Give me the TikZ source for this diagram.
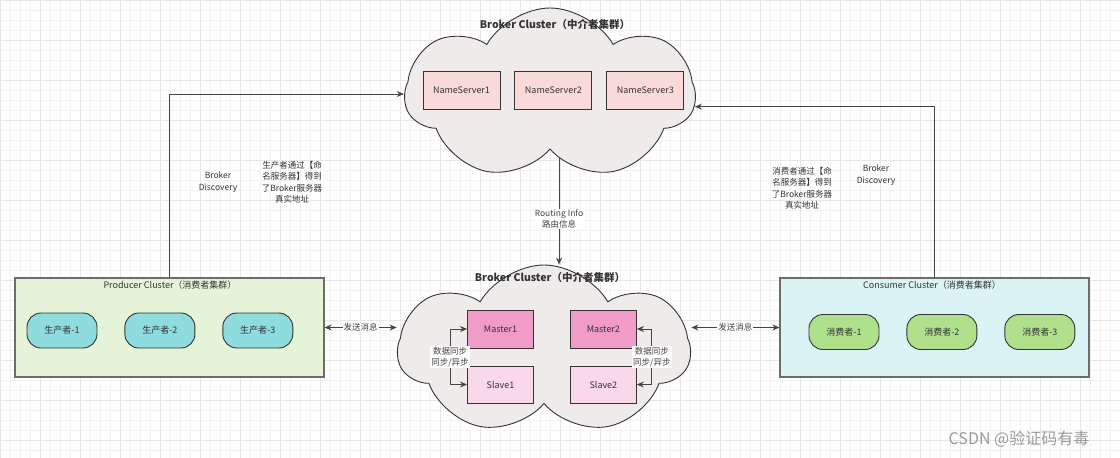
\documentclass[tikz,border=0pt]{standalone}
\usepackage{fontspec}
\newfontfamily\cjk{Noto Sans CJK SC}
\usepackage{xcolor}
\usepackage{tikz}
\usetikzlibrary{positioning}
\usetikzlibrary{shapes.symbols}
\usetikzlibrary{arrows.meta}

\definecolor{ink}{HTML}{333333}
\definecolor{edgegray}{HTML}{444444}
\definecolor{gridlight}{HTML}{F2F2F2}
\definecolor{griddark}{HTML}{E6E6E6}
\definecolor{cloudfill}{HTML}{EFEBEA}
\definecolor{nsfill}{HTML}{FADAD8}
\definecolor{masterfill}{HTML}{F19BC8}
\definecolor{slavefill}{HTML}{F9D8EA}
\definecolor{prodbg}{HTML}{E5F4D8}
\definecolor{consbg}{HTML}{DAF3F4}
\definecolor{prodfill}{HTML}{8FDCDE}
\definecolor{consfill}{HTML}{AFE18C}

\tikzset{
  cloudbox/.style={cloud, cloud puffs=7, cloud puff arc=120, cloud ignores aspect,
    draw=ink, fill=cloudfill, line width=0.9pt, inner sep=0pt},
  nsbox/.style={draw=ink, fill=nsfill, line width=0.9pt, minimum width=77, minimum height=38},
  masterbox/.style={draw=ink, fill=masterfill, line width=0.9pt, minimum width=66, minimum height=38},
  slavebox/.style={draw=ink, fill=slavefill, line width=0.9pt, minimum width=66, minimum height=37},
  clusterbox/.style={draw=gray!85!black, line width=1.2pt, minimum width=309, minimum height=99},
  pill/.style={draw=ink, line width=0.9pt, rounded corners=14, minimum width=70, minimum height=35},
  lbl/.style={align=center, font=\cjk\fontsize{8.5}{11.5}\selectfont},
  tag/.style={fill=white, inner sep=1pt, align=center, font=\cjk\fontsize{8.5}{11}\selectfont},
  title/.style={font=\cjk\bfseries\fontsize{10.5}{12}\selectfont}
}

\begin{document}
\begin{tikzpicture}[x=1pt,y=-1pt,>={Stealth[length=7pt,width=6pt]},
  text=ink, font=\cjk\fontsize{9}{11}\selectfont]
\useasboundingbox (0,0) rectangle (1120,458);
% background grid
\begin{scope}[y=1pt]
\draw[gridlight, line width=0.3pt, step=10] (0,-458) grid (1120,0);
\draw[griddark, line width=0.4pt, step=40] (0,-458) grid (1120,0);
\end{scope}

% name server cloud
\node[cloudbox, minimum width=290, minimum height=172] (top) at (550,94) {};
\node[title] (toptitle) at (555,24) {Broker Cluster（中介者集群）};
\node[nsbox] (ns1) at (461.5,90) {NameServer1};
\node[nsbox, right=14 of ns1] (ns2) {NameServer2};
\node[nsbox, right=14 of ns2] (ns3) {NameServer3};

% broker cloud
\node[cloudbox, minimum width=292, minimum height=170] (bc) at (544,350) {};
\node[title] (bctitle) at (550,277) {Broker Cluster（中介者集群）};
\node[masterbox] (m1) at (500.5,329) {Master1};
\node[masterbox, right=36 of m1] (m2) {Master2};
\node[slavebox] (s1) at (500.5,384.5) {Slave1};
\node[slavebox, right=36 of s1] (s2) {Slave2};

% producer cluster
\node[clusterbox, fill=prodbg] (prod) at (169.5,327.5) {};
\node (prodtitle) at (170,285) {Producer Cluster（消费者集群）};
\node[pill, fill=prodfill] (p1) at (62,330.5) {生产者-1};
\node[pill, fill=prodfill, right=27 of p1] (p2) {生产者-2};
\node[pill, fill=prodfill, right=27 of p2] (p3) {生产者-3};

% consumer cluster
\node[clusterbox, fill=consbg] (cons) at (934.5,327.5) {};
\node (constitle) at (932,285) {Consumer Cluster（消费者集群）};
\node[pill, fill=consfill] (c1) at (844,332) {消费者-1};
\node[pill, fill=consfill, right=27 of c1] (c2) {消费者-2};
\node[pill, fill=consfill, right=27 of c2] (c3) {消费者-3};

% connectors
\draw[->, edgegray, line width=0.9pt] (prod.north) |- (top.west);
\draw[->, edgegray, line width=0.9pt] (cons.north) |- (top.-5);
\draw[->, edgegray, line width=0.9pt] (top.-82) -- node[tag, pos=0.57] (route) {Routing Info\\路由信息} (top.-82 |- bc.north);
\draw[<->, edgegray, line width=0.9pt] (prod.east) -- node[tag] (send1) {发送消息} (prod.east -| bc.west);
\draw[<->, edgegray, line width=0.9pt] (bc.east |- cons.west) -- node[tag] (send2) {发送消息} (cons.west);
\draw[<->, edgegray, line width=0.9pt] (m1.west) -- ++(-17,0) |- node[tag, pos=0.25] (sync1) {数据同步\\同步/异步} (s1.west);
\draw[<->, edgegray, line width=0.9pt] (m2.east) -- ++(15,0) |- node[tag, pos=0.25] (sync2) {数据同步\\同步/异步} (s2.east);

% labels
\node[lbl] (bd1) at (218,182) {Broker\\Discovery};
\node[lbl] (pinfo) at (292,182) {生产者通过【命\\名服务器】得到\\了Broker服务器\\真实地址};
\node[lbl] (cinfo) at (802,188) {消费者通过【命\\名服务器】得到\\了Broker服务器\\真实地址};
\node[lbl] (bd2) at (876,175) {Broker\\Discovery};

\node[text=gray!80, font=\cjk\fontsize{16}{18}\selectfont] (mark) at (1019,439) {CSDN @验证码有毒};
\end{tikzpicture}
\end{document}
